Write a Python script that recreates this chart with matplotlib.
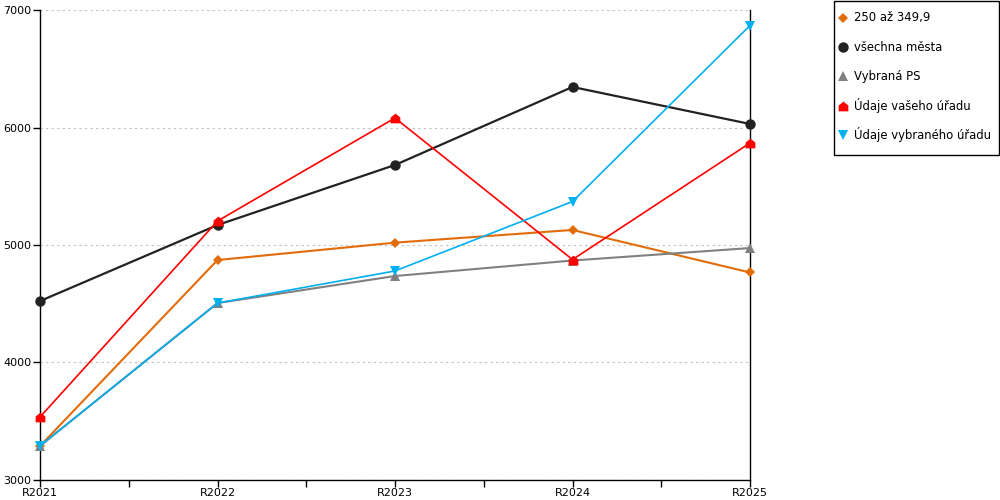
import matplotlib.pyplot as plt
from matplotlib.lines import Line2D
from matplotlib.patches import Rectangle
from matplotlib.path import Path

# Data
years = ["R2021", "R2022", "R2023", "R2024", "R2025"]
s_250 = [3289, 4872, 5020, 5128, 4766]
s_all = [4523, 5170, 5681, 6345, 6030]
s_ps = [3290, 4506, 4736, 4868, 4974]
s_vas = [3536, 5204, 6081, 4876, 5868]
s_vyb = [3290, 4506, 4779, 5370, 6868]

labels = ["250 až 349,9", "všechna města", "Vybraná PS", "Údaje vašeho úřadu", "Údaje vybraného úřadu"]

# house-shaped marker for red series
house = Path([(-1, -1), (1, -1), (1, 0.2), (0, 1), (-1, 0.2), (-1, -1)],
             [Path.MOVETO, Path.LINETO, Path.LINETO, Path.LINETO, Path.LINETO, Path.CLOSEPOLY])

styles = [
    (s_250, "#E36C0A", "D", 5.5, 1.5),
    (s_all, "#222222", "o", 7.5, 1.6),
    (s_ps, "#808080", "^", 7.5, 1.5),
    (s_vas, "#FF0000", house, 7, 1.2),
    (s_vyb, "#00B0F0", "v", 7.5, 1.2),
]

W, H = 1000, 500
fig = plt.figure(figsize=(W / 100, H / 100), dpi=100)
ax = fig.add_axes([40 / W, 20 / H, 710 / W, 470 / H])

x = range(len(years))
for vals, col, mk, ms, lw in styles:
    ax.plot(x, vals, color=col, marker=mk, markersize=ms, linewidth=lw,
            markeredgewidth=0, clip_on=False, zorder=3)

ax.set_xlim(0, len(years) - 1)
ax.set_ylim(3000, 7000)
ax.set_yticks([3000, 4000, 5000, 6000, 7000])
ax.set_xticks(list(x))
ax.set_xticklabels(years)
ax.set_xticks([i + 0.5 for i in range(len(years) - 1)], minor=True)
ax.tick_params(axis="both", labelsize=8, length=5, width=1, direction="out", pad=1)
ax.tick_params(axis="x", which="minor", length=5, width=1)
ax.grid(axis="y", linestyle=(0, (2, 3)), color="#c0c0c0", linewidth=0.8)

ax.spines["top"].set_visible(False)
for s in ["left", "right", "bottom"]:
    ax.spines[s].set_color("black")
    ax.spines[s].set_linewidth(1)

# legend box drawn by hand (marker left, text right)
fig.patches.append(Rectangle((834 / W, 1 - 155 / H), 165 / W, 154 / H, transform=fig.transFigure,
                             facecolor="white", edgecolor="black", linewidth=1))
for i, ((_, col, mk, ms, _), lab) in enumerate(zip(styles, labels)):
    yy = 1 - (18 + 29.2 * i) / H
    fig.add_artist(Line2D([843 / W], [yy], transform=fig.transFigure, color=col, marker=mk,
                          markersize=ms, linestyle="none", markeredgewidth=0))
    fig.text(854 / W, yy, lab, fontsize=8.4, va="center", ha="left")

fig.savefig("out.png", dpi=100)
